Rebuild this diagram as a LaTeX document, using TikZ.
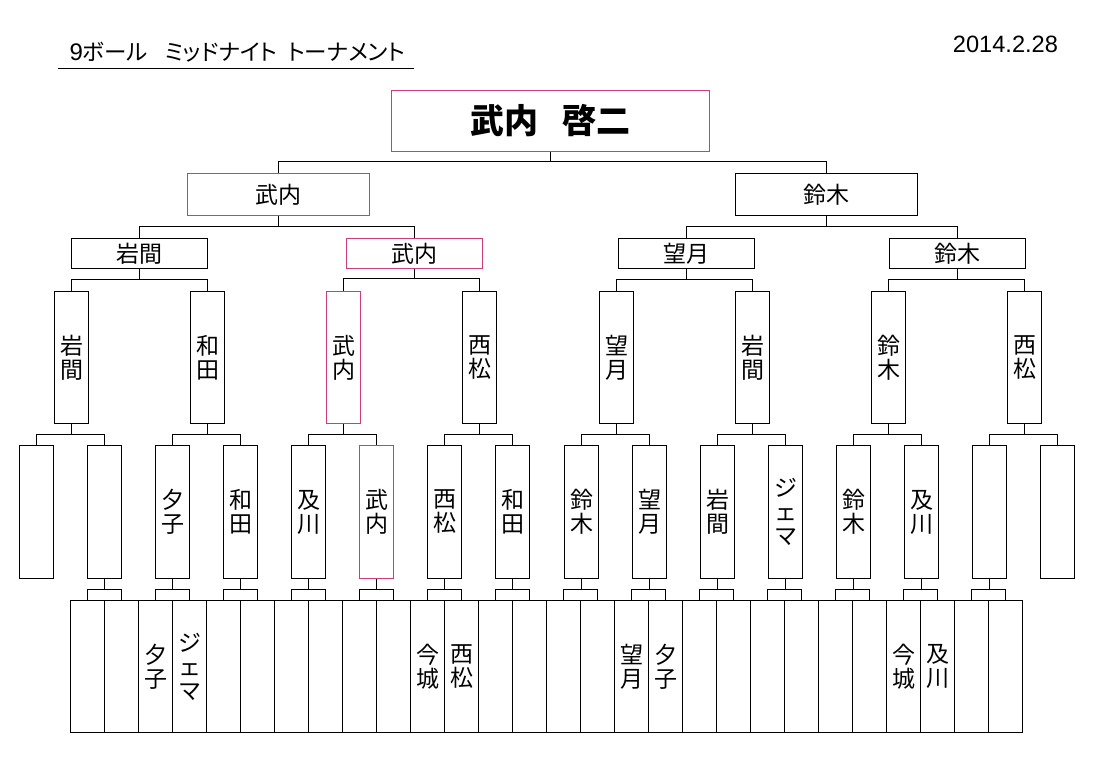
\documentclass[tikz,border=0pt]{standalone}
\usepackage{fontspec}
\setmainfont{Noto Sans CJK JP}
\newfontfamily\lat{Liberation Sans}
\newfontfamily\jpp[RawFeature=+palt]{Noto Sans CJK JP}
\usetikzlibrary{calc}
\definecolor{winpink}{RGB}{205,60,125}
\tikzset{
  box/.style={draw, line width=1pt, inner sep=0pt, align=center, font=\fontsize{23}{24}\selectfont},
  tall/.style={box, minimum width=34pt, minimum height=132pt},
  wide/.style={box, minimum width=136pt, minimum height=30pt},
  win/.style={draw=winpink, line width=1.3pt},
  lost/.style={},
  link/.style={line width=1pt}
}
\begin{document}
\begin{tikzpicture}[x=1pt, y=-1pt]
  \useasboundingbox (0,0) rectangle (1106,762);

  % Title and date
  \node[anchor=base west, font=\jpp\fontsize{22.5}{23}\selectfont] (title) at (66,61)
    {{\lat\fontsize{24}{24}\selectfont 9}ボール\hspace{17pt}ミッドナイト\hspace{10pt}トーナメント};
  \draw[link] (58,68.5) -- (414,68.5);
  \node[anchor=base east, font=\lat\fontsize{23.6}{24}\selectfont] (date) at (1061.5,52.3) {2014.2.28};

  % Winner
  \node[box, win, minimum width=318pt, minimum height=61pt, font=\fontsize{34}{35}\selectfont\bfseries] (fin) at (550.5,121) {武内\hspace{24pt}啓二};

  % Semi-finals
  \node[box, win, minimum width=182pt, minimum height=42pt] (sf1) at (278.5,194.5) {武内};
  \node[box, minimum width=182pt, minimum height=42pt] (sf2) at (826.5,194.5) {鈴木};

  % Quarter-finals
  \foreach \k/\x/\s/\c in {1/139.5/岩間/lost, 2/414.5/武内/win, 3/686.5/望月/lost, 4/957.5/鈴木/lost}
    \node[wide, \c] (qf\k) at (\x,253.5) {\s};

  % Best 16
  \foreach \i/\s/\c in {1/岩\\間/lost, 2/和\\田/lost, 3/武\\内/win, 4/西\\松/lost,
                        5/望\\月/lost, 6/岩\\間/lost, 7/鈴\\木/lost, 8/西\\松/lost}
    \node[tall, \c] (r\i) at ({71.5+round(136.14*(\i-1))},357.5) {\s};

  % Best 32
  \foreach \j/\s/\c in {1//lost, 2//lost, 3/夕\\子/lost, 4/和\\田/lost, 5/及\\川/lost, 6/武\\内/win,
                        7/西\\松/lost, 8/和\\田/lost, 9/鈴\\木/lost, 10/望\\月/lost, 11/岩\\間/lost,
                        12/ジ\\ェ\\マ/lost, 13/鈴\\木/lost, 14/及\\川/lost, 15//lost, 16//lost}
    \node[tall, minimum height=133pt, \c] (q\j) at ({36.5+round(68.07*(\j-1))},512) {\s};

  % First round
  \foreach \k in {1,...,28}
    \node[tall] (s\k) at ({87.5+34*(\k-1)},666.5) {};
  \foreach \k/\s in {3/夕\\子, 4/ジ\\ェ\\マ, 11/今\\城, 12/西\\松, 17/望\\月, 18/夕\\子, 25/今\\城, 26/及\\川}
    \node[align=center, inner sep=0pt, font=\fontsize{23}{24}\selectfont] (n\k) at (s\k) {\s};

  % Bracket lines
  \foreach \p/\a/\b in {fin/sf1/sf2, sf1/qf1/qf2, sf2/qf3/qf4}
    \draw[link] (\a.north) -- ++(0,-11) coordinate (f) -| (\b.north) (\p.south) -- (\p.south |- f);
  \foreach \k [evaluate=\k as \a using int(2*\k-1), evaluate=\k as \b using int(2*\k)] in {1,...,4}
    \draw[link] (r\a.north) -- ++(0,-12) coordinate (f) -| (r\b.north) (qf\k.south) -- (qf\k.south |- f);
  \foreach \i [evaluate=\i as \a using int(2*\i-1), evaluate=\i as \b using int(2*\i)] in {1,...,8}
    \draw[link] (q\a.north) -- ++(0,-11) coordinate (f) -| (q\b.north) (r\i.south) -- (r\i.south |- f);
  \foreach \j [evaluate=\j as \a using int(2*\j-3), evaluate=\j as \b using int(2*\j-2)] in {2,...,15}
    \draw[link] (s\a.north) -- ++(0,-11) coordinate (f) -| (s\b.north) (q\j.south) -- (q\j.south |- f);
\end{tikzpicture}
\end{document}
